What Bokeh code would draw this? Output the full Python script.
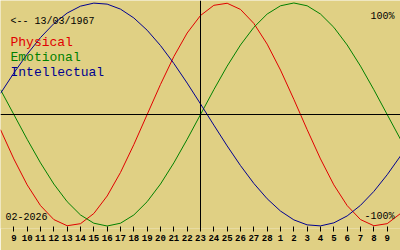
from bokeh.plotting import figure
from bokeh.models import Span, Label, FixedTicker, Range1d
from bokeh.embed import file_html
from bokeh.resources import INLINE

# Days shown: index 0 = 8 Feb 2026 ... index 30 = 10 Mar 2026
day_index = list(range(31))
day_numbers = [8, 9, 10, 11, 12, 13, 14, 15, 16, 17, 18, 19, 20, 21, 22, 23, 24, 25,
               26, 27, 28, 1, 2, 3, 4, 5, 6, 7, 8, 9, 10]
today_index = 15
tick_positions = list(range(1, 30))

physical = [-0.1362, -0.3984, -0.6311, -0.8170, -0.9423, -0.9977, -0.9791, -0.8879,
            -0.7308, -0.5196, -0.2698, 0.0, 0.2698, 0.5196, 0.7308, 0.8879, 0.9791,
            0.9977, 0.9423, 0.8170, 0.6311, 0.3984, 0.1362, -0.1362, -0.3984, -0.6311,
            -0.8170, -0.9423, -0.9977, -0.9791, -0.8879]
emotional = [0.2225, 0.0, -0.2225, -0.4339, -0.6235, -0.7818, -0.9010, -0.9749, -1.0,
             -0.9749, -0.9010, -0.7818, -0.6235, -0.4339, -0.2225, 0.0, 0.2225, 0.4339,
             0.6235, 0.7818, 0.9010, 0.9749, 1.0, 0.9749, 0.9010, 0.7818, 0.6235, 0.4339,
             0.2225, 0.0, -0.2225]
intellectual = [0.1893, 0.3717, 0.5406, 0.6901, 0.8146, 0.9096, 0.9718, 0.9989, 0.9898,
                0.9450, 0.8660, 0.7557, 0.6182, 0.4582, 0.2817, 0.0951, -0.0951, -0.2817,
                -0.4582, -0.6182, -0.7557, -0.8660, -0.9450, -0.9898, -0.9989, -0.9718,
                -0.9096, -0.8146, -0.6901, -0.5406, -0.3717]

series_names = ["Physical", "Emotional", "Intellectual"]
series_colors = ["#e00000", "#008000", "#000090"]
birth_text = "<-- 13/03/1967"
month_text = "02-2026"
top_text = "100%"
bottom_text = "-100%"

BG = "#e0d084"
FONT = "Liberation Mono"
FRAME_H = 228

p = figure(width=400, height=250, output_backend="svg", toolbar_location=None,
           x_range=Range1d(0, 30), y_range=Range1d(-1.0224, 1.0224),
           y_axis_location=None, min_border=0, min_border_bottom=22,
           background_fill_color=BG, border_fill_color=BG, outline_line_color=None)
p.grid.visible = False

ax = p.xaxis[0]
ax.ticker = FixedTicker(ticks=tick_positions)
ax.major_label_overrides = {i: str(day_numbers[i]) for i in tick_positions}
ax.axis_line_color = None
ax.major_tick_in = 2
ax.major_tick_out = 3
ax.major_tick_line_color = "black"
ax.minor_tick_line_color = None
ax.major_label_standoff = 3
ax.major_label_text_font = FONT
ax.major_label_text_font_size = "9px"
ax.major_label_text_font_style = "bold"
ax.major_label_text_color = "black"

for vals, col in zip([physical, emotional, intellectual], series_colors):
    p.line(day_index, vals, line_color=col, line_width=1)

p.add_layout(Span(location=0, dimension="width", line_color="black", line_width=1))
p.add_layout(Span(location=today_index, dimension="height", line_color="black", line_width=1))

def lab(txt, x, top_px, size, color="black", align="left"):
    p.add_layout(Label(x=x, y=FRAME_H - top_px, x_units="screen", y_units="screen", text=txt,
                       text_font=FONT, text_font_size=size, text_color=color,
                       text_align=align, text_baseline="alphabetic"))

lab(birth_text, 10, 21, "10px")
for i, (name, col) in enumerate(zip(series_names, series_colors)):
    lab(name, 10, 42 + 15 * i, "13px", col)
lab(top_text, 394, 16, "10px", align="right")
lab(bottom_text, 394, 216, "10px", align="right")
lab(month_text, 5, 216, "10px")

open("out.html", "w").write(file_html(p, INLINE))
